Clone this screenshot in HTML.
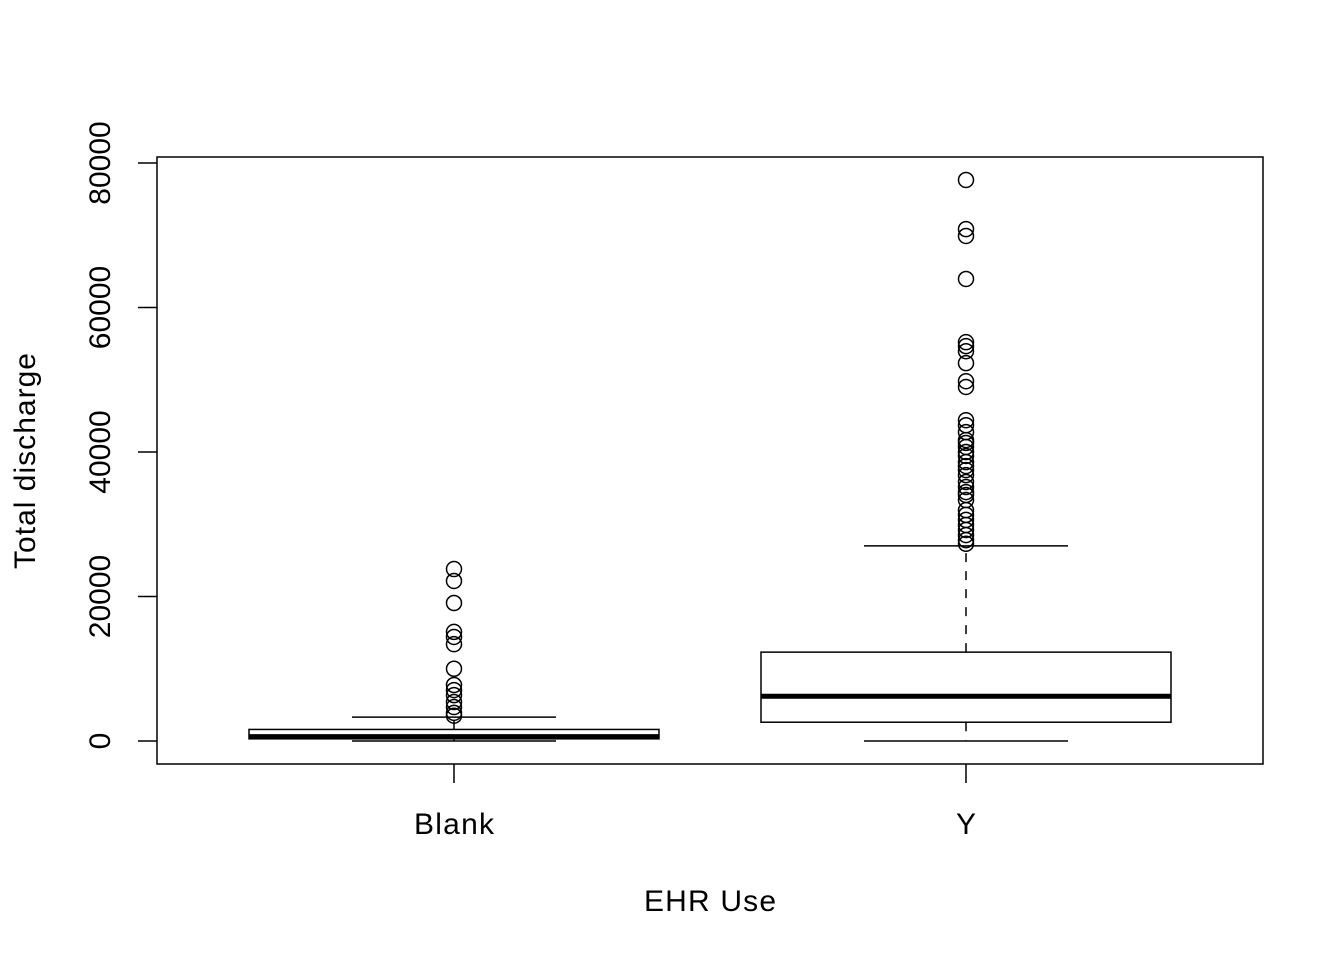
<!DOCTYPE html>
<html><head><meta charset="utf-8"><style>
body{margin:0;background:#fff}
svg text{font-family:"Liberation Sans",Arial,sans-serif;font-size:30px;fill:#000}
</style></head><body>
<svg id="chart" width="1344" height="960" xmlns="http://www.w3.org/2000/svg">
<rect x="157" y="157" width="1106" height="607" fill="none" stroke="#000" stroke-width="1.5"/>
<g id="marks"></g>
<text x="454" y="834" text-anchor="middle" textLength="80">Blank</text>
<text x="966" y="834" text-anchor="middle">Y</text>
<text x="710" y="911" text-anchor="middle" textLength="132">EHR Use</text>
<text transform="translate(35,461) rotate(-90)" text-anchor="middle" textLength="216">Total discharge</text>
</svg>
<script>
const categories=["Blank","Y"];
const q1=[300,2600];
const medians=[600,6200];
const q3=[1600,12300];
const whiskLow=[0,0];
const whiskHigh=[3300,27000];
const outliersBlank=[23800,22150,19100,15100,14400,13400,10000,7750,7050,6350,5400,4700,3900,3500];
const outliersY=[77650,70850,69900,63950,55200,54650,53950,52300,49800,49000,44400,43700,42750,41650,41250,40700,40000,39450,38600,38050,37500,36800,35850,35150,34450,34050,33350,31950,31300,30600,29900,29200,28500,27800,27300];
const yTicks=[0,20000,40000,60000,80000];

const NS="http://www.w3.org/2000/svg";
const g=document.getElementById('marks');
const svg=document.getElementById('chart');
const ys=v=>741-v*578/80000;
const xs=i=>454+i*512;
function mk(tag,at){const e=document.createElementNS(NS,tag);for(const k in at)e.setAttribute(k,at[k]);return e;}
yTicks.forEach(t=>{
 const l=mk('line',{x1:138,x2:157,y1:ys(t),y2:ys(t),stroke:'#000','stroke-width':1.5});
 
 
 svg.appendChild(l);
 const tx=mk('text',{transform:`translate(110,${ys(t)}) rotate(-90)`,'text-anchor':'middle'});
 tx.textContent=t;
 
 
 svg.appendChild(tx);
});
const allOut=[outliersBlank,outliersY];
categories.forEach((c,i)=>{
 const cx=xs(i);
 const tk=mk('line',{x1:cx,x2:cx,y1:764,y2:783,stroke:'#000','stroke-width':1.5});
 
 
 svg.appendChild(tk);
 const w1=mk('line',{x1:cx,x2:cx,y1:ys(q3[i]),y2:ys(whiskHigh[i]),stroke:'#000','stroke-width':1.5,'stroke-dasharray':'9,9'});
 
 
 g.appendChild(w1);
 const w2=mk('line',{x1:cx,x2:cx,y1:ys(q1[i]),y2:ys(whiskLow[i]),stroke:'#000','stroke-width':1.5,'stroke-dasharray':'9,9'});
 
 
 g.appendChild(w2);
 [whiskHigh[i],whiskLow[i]].forEach(v=>{
  const cap=mk('line',{x1:cx-102,x2:cx+102,y1:ys(v),y2:ys(v),stroke:'#000','stroke-width':1.5});
  
  
  g.appendChild(cap);
 });
 const b=mk('rect',{x:cx-205,y:ys(q3[i]),width:410,height:ys(q1[i])-ys(q3[i]),fill:'#fff',stroke:'#000','stroke-width':1.5});
 
 
 g.appendChild(b);
 const m=mk('line',{x1:cx-205,x2:cx+205,y1:ys(medians[i]),y2:ys(medians[i]),stroke:'#000','stroke-width':5});
 
 
 g.appendChild(m);
 allOut[i].forEach(v=>{
  const o=mk('circle',{cx:cx,cy:ys(v),r:7.5,fill:'none',stroke:'#000','stroke-width':1.5});
  
  
  g.appendChild(o);
 });
});
</script>
</body></html>
